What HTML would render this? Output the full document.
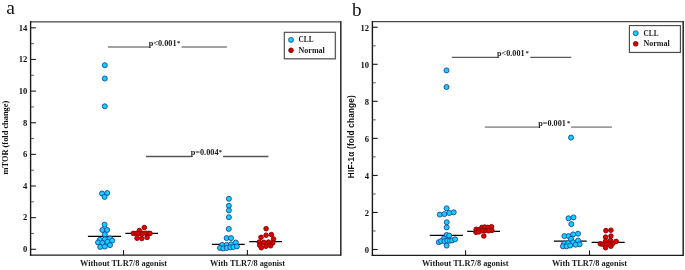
<!DOCTYPE html><html><head><meta charset="utf-8"><style>html,body{margin:0;padding:0;background:#fff;width:685px;height:270px;overflow:hidden}svg{display:block;will-change:transform}text{font-family:"Liberation Serif",serif}</style></head><body>
<svg width="685" height="270" viewBox="0 0 685 270">
<line x1="30.6" y1="21.8" x2="340.8" y2="21.8" stroke="#484848" stroke-width="1.3"/>
<line x1="340.8" y1="21.1" x2="340.8" y2="255.79999999999998" stroke="#333" stroke-width="1.6"/>
<line x1="30.6" y1="21.1" x2="30.6" y2="255.79999999999998" stroke="#1a1a1a" stroke-width="1.4"/>
<line x1="29.900000000000002" y1="255.1" x2="340.8" y2="255.1" stroke="#1a1a1a" stroke-width="1.3"/>
<line x1="30.6" y1="249.30" x2="35.9" y2="249.30" stroke="#1a1a1a" stroke-width="1.1"/>
<text x="27.3" y="252.10" font-size="8.6" font-weight="bold" text-anchor="end" fill="#111">0</text>
<line x1="30.6" y1="233.48" x2="33.9" y2="233.48" stroke="#444" stroke-width="0.9"/>
<line x1="30.6" y1="217.66" x2="35.9" y2="217.66" stroke="#1a1a1a" stroke-width="1.1"/>
<text x="27.3" y="220.46" font-size="8.6" font-weight="bold" text-anchor="end" fill="#111">2</text>
<line x1="30.6" y1="201.84" x2="33.9" y2="201.84" stroke="#444" stroke-width="0.9"/>
<line x1="30.6" y1="186.02" x2="35.9" y2="186.02" stroke="#1a1a1a" stroke-width="1.1"/>
<text x="27.3" y="188.82" font-size="8.6" font-weight="bold" text-anchor="end" fill="#111">4</text>
<line x1="30.6" y1="170.20" x2="33.9" y2="170.20" stroke="#444" stroke-width="0.9"/>
<line x1="30.6" y1="154.38" x2="35.9" y2="154.38" stroke="#1a1a1a" stroke-width="1.1"/>
<text x="27.3" y="157.18" font-size="8.6" font-weight="bold" text-anchor="end" fill="#111">6</text>
<line x1="30.6" y1="138.56" x2="33.9" y2="138.56" stroke="#444" stroke-width="0.9"/>
<line x1="30.6" y1="122.74" x2="35.9" y2="122.74" stroke="#1a1a1a" stroke-width="1.1"/>
<text x="27.3" y="125.54" font-size="8.6" font-weight="bold" text-anchor="end" fill="#111">8</text>
<line x1="30.6" y1="106.92" x2="33.9" y2="106.92" stroke="#444" stroke-width="0.9"/>
<line x1="30.6" y1="91.10" x2="35.9" y2="91.10" stroke="#1a1a1a" stroke-width="1.1"/>
<text x="27.3" y="93.90" font-size="8.6" font-weight="bold" text-anchor="end" fill="#111">10</text>
<line x1="30.6" y1="75.28" x2="33.9" y2="75.28" stroke="#444" stroke-width="0.9"/>
<line x1="30.6" y1="59.46" x2="35.9" y2="59.46" stroke="#1a1a1a" stroke-width="1.1"/>
<text x="27.3" y="62.26" font-size="8.6" font-weight="bold" text-anchor="end" fill="#111">12</text>
<line x1="30.6" y1="43.64" x2="33.9" y2="43.64" stroke="#444" stroke-width="0.9"/>
<line x1="30.6" y1="27.82" x2="35.9" y2="27.82" stroke="#1a1a1a" stroke-width="1.1"/>
<text x="27.3" y="30.62" font-size="8.6" font-weight="bold" text-anchor="end" fill="#111">14</text>
<line x1="123.5" y1="255.1" x2="123.5" y2="250.1" stroke="#1a1a1a" stroke-width="1.1"/>
<line x1="247.4" y1="255.1" x2="247.4" y2="250.1" stroke="#1a1a1a" stroke-width="1.1"/>
<text transform="translate(8.3,137.6) rotate(-90)" text-anchor="middle" font-size="8.4" font-weight="bold" fill="#111" style="font-family:'Liberation Serif',serif;letter-spacing:0px">mTOR (fold change)</text>
<line x1="372.4" y1="21.7" x2="683.2" y2="21.7" stroke="#484848" stroke-width="1.3"/>
<line x1="683.2" y1="21.0" x2="683.2" y2="256.0" stroke="#333" stroke-width="1.6"/>
<line x1="372.4" y1="21.0" x2="372.4" y2="256.0" stroke="#1a1a1a" stroke-width="1.4"/>
<line x1="371.7" y1="255.3" x2="683.2" y2="255.3" stroke="#1a1a1a" stroke-width="1.3"/>
<line x1="372.4" y1="249.50" x2="377.7" y2="249.50" stroke="#1a1a1a" stroke-width="1.1"/>
<text x="369.1" y="252.80" font-size="8.6" font-weight="bold" text-anchor="end" fill="#111">0</text>
<line x1="372.4" y1="230.98" x2="375.7" y2="230.98" stroke="#444" stroke-width="0.9"/>
<line x1="372.4" y1="212.46" x2="377.7" y2="212.46" stroke="#1a1a1a" stroke-width="1.1"/>
<text x="369.1" y="215.76" font-size="8.6" font-weight="bold" text-anchor="end" fill="#111">2</text>
<line x1="372.4" y1="193.94" x2="375.7" y2="193.94" stroke="#444" stroke-width="0.9"/>
<line x1="372.4" y1="175.42" x2="377.7" y2="175.42" stroke="#1a1a1a" stroke-width="1.1"/>
<text x="369.1" y="178.72" font-size="8.6" font-weight="bold" text-anchor="end" fill="#111">4</text>
<line x1="372.4" y1="156.90" x2="375.7" y2="156.90" stroke="#444" stroke-width="0.9"/>
<line x1="372.4" y1="138.38" x2="377.7" y2="138.38" stroke="#1a1a1a" stroke-width="1.1"/>
<text x="369.1" y="141.68" font-size="8.6" font-weight="bold" text-anchor="end" fill="#111">6</text>
<line x1="372.4" y1="119.86" x2="375.7" y2="119.86" stroke="#444" stroke-width="0.9"/>
<line x1="372.4" y1="101.34" x2="377.7" y2="101.34" stroke="#1a1a1a" stroke-width="1.1"/>
<text x="369.1" y="104.64" font-size="8.6" font-weight="bold" text-anchor="end" fill="#111">8</text>
<line x1="372.4" y1="82.82" x2="375.7" y2="82.82" stroke="#444" stroke-width="0.9"/>
<line x1="372.4" y1="64.30" x2="377.7" y2="64.30" stroke="#1a1a1a" stroke-width="1.1"/>
<text x="369.1" y="67.60" font-size="8.6" font-weight="bold" text-anchor="end" fill="#111">10</text>
<line x1="372.4" y1="45.78" x2="375.7" y2="45.78" stroke="#444" stroke-width="0.9"/>
<line x1="372.4" y1="27.26" x2="377.7" y2="27.26" stroke="#1a1a1a" stroke-width="1.1"/>
<text x="369.1" y="30.56" font-size="8.6" font-weight="bold" text-anchor="end" fill="#111">12</text>
<line x1="465.6" y1="255.3" x2="465.6" y2="250.3" stroke="#1a1a1a" stroke-width="1.1"/>
<line x1="589.5" y1="255.3" x2="589.5" y2="250.3" stroke="#1a1a1a" stroke-width="1.1"/>
<text transform="translate(354.35,136.6) rotate(-90)" text-anchor="middle" font-size="8.2" font-weight="bold" fill="#111" style="font-family:'Liberation Sans',sans-serif;letter-spacing:0.2px">HIF-1α (fold change)</text>
<text x="6.3" y="14" font-size="19.5" fill="#111">a</text>
<text x="352.0" y="15.6" font-size="19.2" fill="#111">b</text>
<line x1="87.9" y1="236.4" x2="121.1" y2="236.4" stroke="#000" stroke-width="1.3"/>
<line x1="125.3" y1="233.4" x2="158.0" y2="233.4" stroke="#000" stroke-width="1.3"/>
<line x1="211.9" y1="244.4" x2="244.8" y2="244.4" stroke="#000" stroke-width="1.3"/>
<line x1="249.2" y1="241.6" x2="282.0" y2="241.6" stroke="#000" stroke-width="1.3"/>
<line x1="429.8" y1="235.3" x2="462.9" y2="235.3" stroke="#000" stroke-width="1.3"/>
<line x1="467.2" y1="231.3" x2="500.0" y2="231.3" stroke="#000" stroke-width="1.3"/>
<line x1="553.9" y1="241.2" x2="586.7" y2="241.2" stroke="#000" stroke-width="1.3"/>
<line x1="591.6" y1="242.4" x2="624.7" y2="242.4" stroke="#000" stroke-width="1.3"/>
<line x1="108.0" y1="47.0" x2="149.10000000000002" y2="47.0" stroke="#a2a2a2" stroke-width="2.0"/>
<line x1="181.6" y1="47.0" x2="226.9" y2="47.0" stroke="#a2a2a2" stroke-width="2.0"/>
<text x="148.70000000000002" y="45.6" font-size="8.6" font-weight="bold" fill="#1a1a1a" textLength="27.9" lengthAdjust="spacingAndGlyphs">p&lt;0.001</text>
<text x="177.1" y="44.9" font-size="6.6" font-weight="bold" fill="#1a1a1a">*</text>
<line x1="145.9" y1="156.5" x2="191.10000000000002" y2="156.5" stroke="#555" stroke-width="1.3"/>
<line x1="223.0" y1="156.5" x2="268.4" y2="156.5" stroke="#555" stroke-width="1.3"/>
<text x="190.70000000000002" y="155.0" font-size="8.6" font-weight="bold" fill="#1a1a1a" textLength="27.9" lengthAdjust="spacingAndGlyphs">p=0.004</text>
<text x="218.8" y="154.3" font-size="6.6" font-weight="bold" fill="#1a1a1a">*</text>
<line x1="451.8" y1="57.4" x2="497.5" y2="57.4" stroke="#5a5a5a" stroke-width="1.3"/>
<line x1="530.3" y1="57.4" x2="571.3" y2="57.4" stroke="#5a5a5a" stroke-width="1.3"/>
<text x="497.09999999999997" y="55.5" font-size="8.6" font-weight="bold" fill="#1a1a1a" textLength="27.4" lengthAdjust="spacingAndGlyphs">p&lt;0.001</text>
<text x="525.6" y="54.8" font-size="6.6" font-weight="bold" fill="#1a1a1a">*</text>
<line x1="484.8" y1="127.2" x2="538.5999999999999" y2="127.2" stroke="#9c9c9c" stroke-width="1.8"/>
<line x1="571.1" y1="127.2" x2="611.9" y2="127.2" stroke="#9c9c9c" stroke-width="1.8"/>
<text x="538.1999999999999" y="125.5" font-size="8.6" font-weight="bold" fill="#1a1a1a" textLength="27.7" lengthAdjust="spacingAndGlyphs">p=0.001</text>
<text x="567.0" y="124.8" font-size="6.6" font-weight="bold" fill="#1a1a1a">*</text>
<circle cx="104.8" cy="65.2" r="2.5" fill="#12d2fc" stroke="#1a44a0" stroke-width="0.9"/>
<circle cx="104.8" cy="78.5" r="2.5" fill="#12d2fc" stroke="#1a44a0" stroke-width="0.9"/>
<circle cx="104.8" cy="106.3" r="2.5" fill="#12d2fc" stroke="#1a44a0" stroke-width="0.9"/>
<circle cx="102.0" cy="193.5" r="2.5" fill="#12d2fc" stroke="#1a44a0" stroke-width="0.9"/>
<circle cx="107.2" cy="193.0" r="2.5" fill="#12d2fc" stroke="#1a44a0" stroke-width="0.9"/>
<circle cx="104.6" cy="196.9" r="2.5" fill="#12d2fc" stroke="#1a44a0" stroke-width="0.9"/>
<circle cx="104.6" cy="224.7" r="2.5" fill="#12d2fc" stroke="#1a44a0" stroke-width="0.9"/>
<circle cx="102.4" cy="230.0" r="2.5" fill="#12d2fc" stroke="#1a44a0" stroke-width="0.9"/>
<circle cx="107.1" cy="230.0" r="2.5" fill="#12d2fc" stroke="#1a44a0" stroke-width="0.9"/>
<circle cx="104.8" cy="234.4" r="2.5" fill="#12d2fc" stroke="#1a44a0" stroke-width="0.9"/>
<circle cx="99.8" cy="239.8" r="2.5" fill="#12d2fc" stroke="#1a44a0" stroke-width="0.9"/>
<circle cx="104.8" cy="239.3" r="2.5" fill="#12d2fc" stroke="#1a44a0" stroke-width="0.9"/>
<circle cx="110.0" cy="238.4" r="2.5" fill="#12d2fc" stroke="#1a44a0" stroke-width="0.9"/>
<circle cx="112.2" cy="240.6" r="2.5" fill="#12d2fc" stroke="#1a44a0" stroke-width="0.9"/>
<circle cx="98.0" cy="242.4" r="2.5" fill="#12d2fc" stroke="#1a44a0" stroke-width="0.9"/>
<circle cx="102.4" cy="242.9" r="2.5" fill="#12d2fc" stroke="#1a44a0" stroke-width="0.9"/>
<circle cx="107.3" cy="241.8" r="2.5" fill="#12d2fc" stroke="#1a44a0" stroke-width="0.9"/>
<circle cx="100.2" cy="246.9" r="2.5" fill="#12d2fc" stroke="#1a44a0" stroke-width="0.9"/>
<circle cx="104.8" cy="246.6" r="2.5" fill="#12d2fc" stroke="#1a44a0" stroke-width="0.9"/>
<circle cx="110.0" cy="245.1" r="2.5" fill="#12d2fc" stroke="#1a44a0" stroke-width="0.9"/>
<circle cx="144.3" cy="227.5" r="2.3" fill="#e00000" stroke="#850000" stroke-width="0.9"/>
<circle cx="139.4" cy="230.5" r="2.3" fill="#e00000" stroke="#850000" stroke-width="0.9"/>
<circle cx="133.3" cy="233.4" r="2.3" fill="#e00000" stroke="#850000" stroke-width="0.9"/>
<circle cx="136.3" cy="233.4" r="2.3" fill="#e00000" stroke="#850000" stroke-width="0.9"/>
<circle cx="139.5" cy="233.6" r="2.3" fill="#e00000" stroke="#850000" stroke-width="0.9"/>
<circle cx="142.6" cy="233.4" r="2.3" fill="#e00000" stroke="#850000" stroke-width="0.9"/>
<circle cx="145.8" cy="233.2" r="2.3" fill="#e00000" stroke="#850000" stroke-width="0.9"/>
<circle cx="148.5" cy="233.4" r="2.3" fill="#e00000" stroke="#850000" stroke-width="0.9"/>
<circle cx="150.0" cy="233.4" r="2.3" fill="#e00000" stroke="#850000" stroke-width="0.9"/>
<circle cx="137.0" cy="238.2" r="2.3" fill="#e00000" stroke="#850000" stroke-width="0.9"/>
<circle cx="141.8" cy="238.5" r="2.3" fill="#e00000" stroke="#850000" stroke-width="0.9"/>
<circle cx="147.1" cy="237.4" r="2.3" fill="#e00000" stroke="#850000" stroke-width="0.9"/>
<circle cx="228.9" cy="198.8" r="2.5" fill="#12d2fc" stroke="#1a44a0" stroke-width="0.9"/>
<circle cx="228.9" cy="205.8" r="2.5" fill="#12d2fc" stroke="#1a44a0" stroke-width="0.9"/>
<circle cx="228.9" cy="210.4" r="2.5" fill="#12d2fc" stroke="#1a44a0" stroke-width="0.9"/>
<circle cx="228.9" cy="217.2" r="2.5" fill="#12d2fc" stroke="#1a44a0" stroke-width="0.9"/>
<circle cx="228.8" cy="228.9" r="2.5" fill="#12d2fc" stroke="#1a44a0" stroke-width="0.9"/>
<circle cx="226.6" cy="238.1" r="2.5" fill="#12d2fc" stroke="#1a44a0" stroke-width="0.9"/>
<circle cx="231.0" cy="238.1" r="2.5" fill="#12d2fc" stroke="#1a44a0" stroke-width="0.9"/>
<circle cx="222.1" cy="244.9" r="2.5" fill="#12d2fc" stroke="#1a44a0" stroke-width="0.9"/>
<circle cx="226.6" cy="244.9" r="2.5" fill="#12d2fc" stroke="#1a44a0" stroke-width="0.9"/>
<circle cx="231.0" cy="244.3" r="2.5" fill="#12d2fc" stroke="#1a44a0" stroke-width="0.9"/>
<circle cx="235.8" cy="242.5" r="2.5" fill="#12d2fc" stroke="#1a44a0" stroke-width="0.9"/>
<circle cx="220.0" cy="247.9" r="2.5" fill="#12d2fc" stroke="#1a44a0" stroke-width="0.9"/>
<circle cx="223.3" cy="248.5" r="2.5" fill="#12d2fc" stroke="#1a44a0" stroke-width="0.9"/>
<circle cx="226.9" cy="247.9" r="2.5" fill="#12d2fc" stroke="#1a44a0" stroke-width="0.9"/>
<circle cx="230.4" cy="247.3" r="2.5" fill="#12d2fc" stroke="#1a44a0" stroke-width="0.9"/>
<circle cx="233.4" cy="247.0" r="2.5" fill="#12d2fc" stroke="#1a44a0" stroke-width="0.9"/>
<circle cx="236.9" cy="246.4" r="2.5" fill="#12d2fc" stroke="#1a44a0" stroke-width="0.9"/>
<circle cx="266.1" cy="228.7" r="2.3" fill="#e00000" stroke="#850000" stroke-width="0.9"/>
<circle cx="261.0" cy="237.3" r="2.3" fill="#e00000" stroke="#850000" stroke-width="0.9"/>
<circle cx="266.1" cy="235.2" r="2.3" fill="#e00000" stroke="#850000" stroke-width="0.9"/>
<circle cx="271.4" cy="234.6" r="2.3" fill="#e00000" stroke="#850000" stroke-width="0.9"/>
<circle cx="273.5" cy="239.0" r="2.3" fill="#e00000" stroke="#850000" stroke-width="0.9"/>
<circle cx="259.2" cy="242.1" r="2.3" fill="#e00000" stroke="#850000" stroke-width="0.9"/>
<circle cx="263.8" cy="242.4" r="2.3" fill="#e00000" stroke="#850000" stroke-width="0.9"/>
<circle cx="268.5" cy="242.1" r="2.3" fill="#e00000" stroke="#850000" stroke-width="0.9"/>
<circle cx="272.7" cy="242.9" r="2.3" fill="#e00000" stroke="#850000" stroke-width="0.9"/>
<circle cx="259.7" cy="245.2" r="2.3" fill="#e00000" stroke="#850000" stroke-width="0.9"/>
<circle cx="261.3" cy="247.8" r="2.3" fill="#e00000" stroke="#850000" stroke-width="0.9"/>
<circle cx="265.9" cy="246.3" r="2.3" fill="#e00000" stroke="#850000" stroke-width="0.9"/>
<circle cx="270.6" cy="245.8" r="2.3" fill="#e00000" stroke="#850000" stroke-width="0.9"/>
<circle cx="446.5" cy="70.4" r="2.5" fill="#12d2fc" stroke="#1a44a0" stroke-width="0.9"/>
<circle cx="446.5" cy="87.0" r="2.5" fill="#12d2fc" stroke="#1a44a0" stroke-width="0.9"/>
<circle cx="446.6" cy="208.3" r="2.5" fill="#12d2fc" stroke="#1a44a0" stroke-width="0.9"/>
<circle cx="439.8" cy="214.6" r="2.5" fill="#12d2fc" stroke="#1a44a0" stroke-width="0.9"/>
<circle cx="444.4" cy="214.1" r="2.5" fill="#12d2fc" stroke="#1a44a0" stroke-width="0.9"/>
<circle cx="449.3" cy="213.0" r="2.5" fill="#12d2fc" stroke="#1a44a0" stroke-width="0.9"/>
<circle cx="453.7" cy="212.3" r="2.5" fill="#12d2fc" stroke="#1a44a0" stroke-width="0.9"/>
<circle cx="446.7" cy="222.2" r="2.5" fill="#12d2fc" stroke="#1a44a0" stroke-width="0.9"/>
<circle cx="446.7" cy="227.4" r="2.5" fill="#12d2fc" stroke="#1a44a0" stroke-width="0.9"/>
<circle cx="446.6" cy="235.0" r="2.5" fill="#12d2fc" stroke="#1a44a0" stroke-width="0.9"/>
<circle cx="449.2" cy="235.6" r="2.5" fill="#12d2fc" stroke="#1a44a0" stroke-width="0.9"/>
<circle cx="444.0" cy="238.5" r="2.5" fill="#12d2fc" stroke="#1a44a0" stroke-width="0.9"/>
<circle cx="438.8" cy="242.2" r="2.5" fill="#12d2fc" stroke="#1a44a0" stroke-width="0.9"/>
<circle cx="441.0" cy="241.1" r="2.5" fill="#12d2fc" stroke="#1a44a0" stroke-width="0.9"/>
<circle cx="444.4" cy="241.1" r="2.5" fill="#12d2fc" stroke="#1a44a0" stroke-width="0.9"/>
<circle cx="447.3" cy="240.7" r="2.5" fill="#12d2fc" stroke="#1a44a0" stroke-width="0.9"/>
<circle cx="449.9" cy="240.7" r="2.5" fill="#12d2fc" stroke="#1a44a0" stroke-width="0.9"/>
<circle cx="452.1" cy="240.4" r="2.5" fill="#12d2fc" stroke="#1a44a0" stroke-width="0.9"/>
<circle cx="455.1" cy="239.3" r="2.5" fill="#12d2fc" stroke="#1a44a0" stroke-width="0.9"/>
<circle cx="446.6" cy="245.6" r="2.5" fill="#12d2fc" stroke="#1a44a0" stroke-width="0.9"/>
<circle cx="476.2" cy="229.3" r="2.3" fill="#e00000" stroke="#850000" stroke-width="0.9"/>
<circle cx="476.0" cy="232.3" r="2.3" fill="#e00000" stroke="#850000" stroke-width="0.9"/>
<circle cx="478.9" cy="229.6" r="2.3" fill="#e00000" stroke="#850000" stroke-width="0.9"/>
<circle cx="481.9" cy="227.4" r="2.3" fill="#e00000" stroke="#850000" stroke-width="0.9"/>
<circle cx="484.8" cy="227.0" r="2.3" fill="#e00000" stroke="#850000" stroke-width="0.9"/>
<circle cx="487.8" cy="227.4" r="2.3" fill="#e00000" stroke="#850000" stroke-width="0.9"/>
<circle cx="491.5" cy="226.7" r="2.3" fill="#e00000" stroke="#850000" stroke-width="0.9"/>
<circle cx="491.9" cy="230.4" r="2.3" fill="#e00000" stroke="#850000" stroke-width="0.9"/>
<circle cx="488.5" cy="230.7" r="2.3" fill="#e00000" stroke="#850000" stroke-width="0.9"/>
<circle cx="484.8" cy="230.7" r="2.3" fill="#e00000" stroke="#850000" stroke-width="0.9"/>
<circle cx="481.9" cy="230.7" r="2.3" fill="#e00000" stroke="#850000" stroke-width="0.9"/>
<circle cx="478.9" cy="231.9" r="2.3" fill="#e00000" stroke="#850000" stroke-width="0.9"/>
<circle cx="483.8" cy="236.0" r="2.3" fill="#e00000" stroke="#850000" stroke-width="0.9"/>
<circle cx="571.0" cy="137.6" r="2.5" fill="#12d2fc" stroke="#1a44a0" stroke-width="0.9"/>
<circle cx="568.5" cy="218.3" r="2.5" fill="#12d2fc" stroke="#1a44a0" stroke-width="0.9"/>
<circle cx="573.5" cy="217.4" r="2.5" fill="#12d2fc" stroke="#1a44a0" stroke-width="0.9"/>
<circle cx="571.3" cy="224.1" r="2.5" fill="#12d2fc" stroke="#1a44a0" stroke-width="0.9"/>
<circle cx="564.4" cy="236.1" r="2.5" fill="#12d2fc" stroke="#1a44a0" stroke-width="0.9"/>
<circle cx="568.6" cy="236.1" r="2.5" fill="#12d2fc" stroke="#1a44a0" stroke-width="0.9"/>
<circle cx="573.1" cy="234.4" r="2.5" fill="#12d2fc" stroke="#1a44a0" stroke-width="0.9"/>
<circle cx="578.0" cy="233.7" r="2.5" fill="#12d2fc" stroke="#1a44a0" stroke-width="0.9"/>
<circle cx="571.0" cy="239.0" r="2.5" fill="#12d2fc" stroke="#1a44a0" stroke-width="0.9"/>
<circle cx="578.0" cy="240.6" r="2.5" fill="#12d2fc" stroke="#1a44a0" stroke-width="0.9"/>
<circle cx="564.1" cy="243.5" r="2.5" fill="#12d2fc" stroke="#1a44a0" stroke-width="0.9"/>
<circle cx="568.2" cy="243.1" r="2.5" fill="#12d2fc" stroke="#1a44a0" stroke-width="0.9"/>
<circle cx="573.1" cy="242.3" r="2.5" fill="#12d2fc" stroke="#1a44a0" stroke-width="0.9"/>
<circle cx="579.6" cy="244.3" r="2.5" fill="#12d2fc" stroke="#1a44a0" stroke-width="0.9"/>
<circle cx="562.9" cy="246.3" r="2.5" fill="#12d2fc" stroke="#1a44a0" stroke-width="0.9"/>
<circle cx="566.6" cy="246.3" r="2.5" fill="#12d2fc" stroke="#1a44a0" stroke-width="0.9"/>
<circle cx="570.2" cy="245.5" r="2.5" fill="#12d2fc" stroke="#1a44a0" stroke-width="0.9"/>
<circle cx="575.5" cy="244.7" r="2.5" fill="#12d2fc" stroke="#1a44a0" stroke-width="0.9"/>
<circle cx="605.9" cy="230.6" r="2.3" fill="#e00000" stroke="#850000" stroke-width="0.9"/>
<circle cx="610.9" cy="230.2" r="2.3" fill="#e00000" stroke="#850000" stroke-width="0.9"/>
<circle cx="605.6" cy="237.1" r="2.3" fill="#e00000" stroke="#850000" stroke-width="0.9"/>
<circle cx="610.9" cy="236.1" r="2.3" fill="#e00000" stroke="#850000" stroke-width="0.9"/>
<circle cx="605.6" cy="241.2" r="2.3" fill="#e00000" stroke="#850000" stroke-width="0.9"/>
<circle cx="610.5" cy="240.5" r="2.3" fill="#e00000" stroke="#850000" stroke-width="0.9"/>
<circle cx="616.2" cy="241.4" r="2.3" fill="#e00000" stroke="#850000" stroke-width="0.9"/>
<circle cx="600.3" cy="243.8" r="2.3" fill="#e00000" stroke="#850000" stroke-width="0.9"/>
<circle cx="602.7" cy="244.3" r="2.3" fill="#e00000" stroke="#850000" stroke-width="0.9"/>
<circle cx="608.0" cy="243.8" r="2.3" fill="#e00000" stroke="#850000" stroke-width="0.9"/>
<circle cx="612.9" cy="243.3" r="2.3" fill="#e00000" stroke="#850000" stroke-width="0.9"/>
<circle cx="605.6" cy="247.7" r="2.3" fill="#e00000" stroke="#850000" stroke-width="0.9"/>
<circle cx="610.9" cy="246.2" r="2.3" fill="#e00000" stroke="#850000" stroke-width="0.9"/>
<text x="80.0" y="265.8" font-size="8.35" font-weight="bold" fill="#1c1c1c" textLength="87.0" lengthAdjust="spacingAndGlyphs">Without TLR7/8 agonist</text>
<text x="210.1" y="265.8" font-size="8.35" font-weight="bold" fill="#1c1c1c" textLength="75.0" lengthAdjust="spacingAndGlyphs">With TLR7/8 agonist</text>
<text x="421.9" y="265.8" font-size="8.35" font-weight="bold" fill="#1c1c1c" textLength="86.7" lengthAdjust="spacingAndGlyphs">Without TLR7/8 agonist</text>
<text x="551.9" y="265.8" font-size="8.35" font-weight="bold" fill="#1c1c1c" textLength="75.1" lengthAdjust="spacingAndGlyphs">With TLR7/8 agonist</text>
<rect x="285.3" y="33.3" width="51.0" height="26.5" fill="#ccc" opacity="0.5"/>
<rect x="284.3" y="32.3" width="51.0" height="26.5" fill="#fff" stroke="#444" stroke-width="1.1"/>
<circle cx="291.0" cy="39.9" r="2.5" fill="#12d2fc" stroke="#1a44a0" stroke-width="0.8"/>
<circle cx="291.0" cy="50.3" r="2.35" fill="#cc0000" stroke="#700000" stroke-width="0.8"/>
<text x="298.6" y="42.4" font-size="8.0" font-weight="bold" fill="#1a1a1a" textLength="15.0" lengthAdjust="spacingAndGlyphs">CLL</text>
<text x="298.6" y="52.8" font-size="8.0" font-weight="bold" fill="#1a1a1a">Normal</text>
<rect x="630.4" y="26.6" width="51.0" height="26.799999999999997" fill="#ccc" opacity="0.5"/>
<rect x="629.4" y="25.6" width="51.0" height="26.799999999999997" fill="#fff" stroke="#444" stroke-width="1.1"/>
<circle cx="635.7" cy="33.2" r="2.5" fill="#12d2fc" stroke="#1a44a0" stroke-width="0.8"/>
<circle cx="635.7" cy="43.8" r="2.35" fill="#cc0000" stroke="#700000" stroke-width="0.8"/>
<text x="643.5" y="35.7" font-size="8.0" font-weight="bold" fill="#1a1a1a" textLength="15.0" lengthAdjust="spacingAndGlyphs">CLL</text>
<text x="643.5" y="46.3" font-size="8.0" font-weight="bold" fill="#1a1a1a">Normal</text>
</svg></body></html>
